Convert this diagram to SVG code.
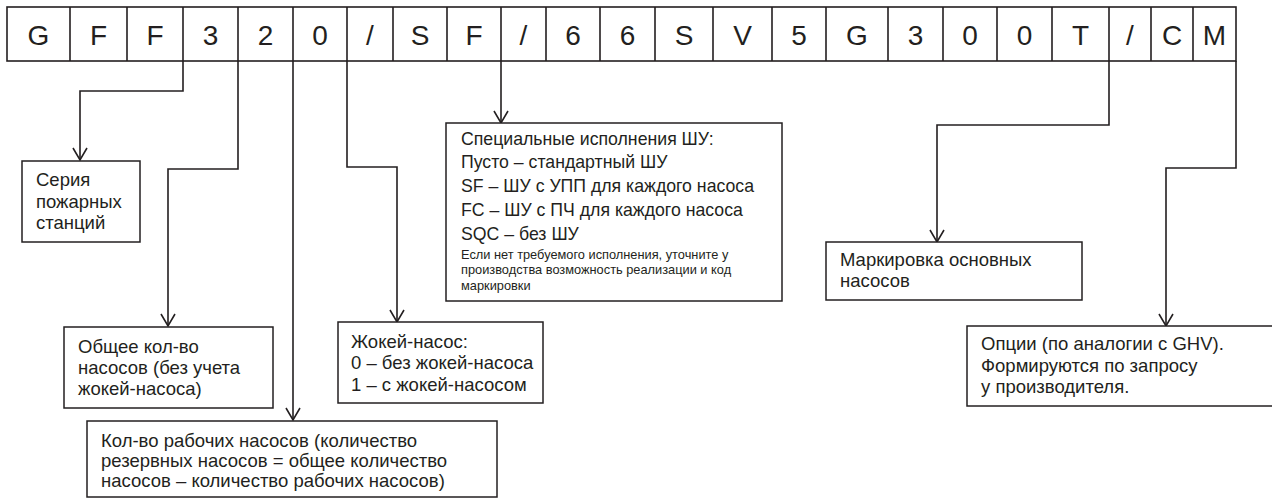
<svg xmlns="http://www.w3.org/2000/svg" width="1272" height="502" viewBox="0 0 1272 502">
<defs>
<style>
.cell{fill:none;stroke:#231f20;stroke-width:1.6}
.ch{font-family:"Liberation Sans",Arial,sans-serif;font-size:28px;fill:#231f20;text-anchor:middle}
.box{fill:#fff;stroke:#231f20;stroke-width:1.5}
.t{font-family:"Liberation Sans",Arial,sans-serif;font-size:18.5px;fill:#231f20}
.m{font-family:"Liberation Sans",Arial,sans-serif;font-size:17.7px;fill:#231f20}
.s{font-family:"Liberation Sans",Arial,sans-serif;font-size:12.8px;fill:#231f20}
.con{fill:none;stroke:#231f20;stroke-width:1.6;marker-end:url(#arr)}
</style>
<marker id="arr" markerUnits="userSpaceOnUse" viewBox="-1 -1 15 16" markerWidth="15" markerHeight="16" refX="12" refY="7" orient="auto" overflow="visible">
<path d="M0,0 L12,7 L0,14" fill="none" stroke="#231f20" stroke-width="1.6"/>
</marker>
</defs>
<rect width="1272" height="502" fill="#fff"/>
<g id="code">
<rect class="cell" x="7" y="7" width="1229" height="54"/>
<path class="cell" d="M70,7V61M127,7V61M183,7V61M238,7V61M293,7V61M347,7V61M393,7V61M447,7V61M501,7V61M546,7V61M600,7V61M655,7V61M713,7V61M772,7V61M826,7V61M888,7V61M943,7V61M997,7V61M1052,7V61M1109,7V61M1151,7V61M1193,7V61"/>
<text class="ch" x="38.5" y="45">G</text>
<text class="ch" x="98.5" y="45">F</text>
<text class="ch" x="155" y="45">F</text>
<text class="ch" x="210.5" y="45">3</text>
<text class="ch" x="265.5" y="45">2</text>
<text class="ch" x="320" y="45">0</text>
<text class="ch" x="370" y="45">/</text>
<text class="ch" x="420" y="45">S</text>
<text class="ch" x="474" y="45">F</text>
<text class="ch" x="523.5" y="45">/</text>
<text class="ch" x="573" y="45">6</text>
<text class="ch" x="627.5" y="45">6</text>
<text class="ch" x="684" y="45">S</text>
<text class="ch" x="742.5" y="45">V</text>
<text class="ch" x="799" y="45">5</text>
<text class="ch" x="857" y="45">G</text>
<text class="ch" x="915.5" y="45">3</text>
<text class="ch" x="970" y="45">0</text>
<text class="ch" x="1024.5" y="45">0</text>
<text class="ch" x="1080.5" y="45">T</text>
<text class="ch" x="1130" y="45">/</text>
<text class="ch" x="1172" y="45">C</text>
<text class="ch" x="1214.5" y="45">M</text>
</g>
<g id="connectors">
<path class="con" d="M183,61V91H80V160"/>
<path class="con" d="M238,61V169H168V326"/>
<path class="con" d="M293,61V420"/>
<path class="con" d="M347,61V167H397V322"/>
<path class="con" d="M501,61V123"/>
<path class="con" d="M1109,61V125H937V242"/>
<path class="con" d="M1236,61V168H1166V326"/>
</g>
<g id="seria">
<rect class="box" x="22" y="161" width="118" height="81"/>
<text class="t" x="36" y="186">Серия</text>
<text class="t" x="36" y="208">пожарных</text>
<text class="t" x="36" y="229">станций</text>
</g>
<g id="obshee">
<rect class="box" x="64" y="327" width="209" height="81"/>
<text class="t" x="78" y="353">Общее кол-во</text>
<text class="t" x="78" y="374">насосов (без учета</text>
<text class="t" x="78" y="395">жокей-насоса)</text>
</g>
<g id="rabochie">
<rect class="box" x="87" y="421" width="410" height="76"/>
<text class="t" x="101" y="447">Кол-во рабочих насосов (количество</text>
<text class="t" x="101" y="467">резервных насосов = общее количество</text>
<text class="t" x="101" y="487">насосов – количество рабочих насосов)</text>
</g>
<g id="jokey">
<rect class="box" x="338" y="322" width="205" height="81"/>
<text class="t" x="351" y="348">Жокей-насос:</text>
<text class="t" x="351" y="369">0 – без жокей-насоса</text>
<text class="t" x="351" y="391">1 – с жокей-насосом</text>
</g>
<g id="special">
<rect class="box" x="446" y="123" width="336" height="178"/>
<text class="m" x="461" y="145">Специальные исполнения ШУ:</text>
<text class="m" x="461" y="168">Пусто – стандартный ШУ</text>
<text class="m" x="461" y="192">SF – ШУ с УПП для каждого насоса</text>
<text class="m" x="461" y="216">FC – ШУ с ПЧ для каждого насоса</text>
<text class="m" x="461" y="240">SQC – без ШУ</text>
<text class="s" x="461" y="259">Если нет требуемого исполнения, уточните у</text>
<text class="s" x="461" y="274">производства возможность реализации и код</text>
<text class="s" x="461" y="290">маркировки</text>
</g>
<g id="markirovka">
<rect class="box" x="826" y="242" width="256" height="58"/>
<text class="t" x="840" y="266">Маркировка основных</text>
<text class="t" x="840" y="287">насосов</text>
</g>
<g id="opcii">
<rect class="box" x="967" y="326" width="308" height="80"/>
<text class="t" x="981" y="350">Опции (по аналогии с GHV).</text>
<text class="t" x="981" y="372">Формируются по запросу</text>
<text class="t" x="981" y="393">у производителя.</text>
</g>
</svg>
